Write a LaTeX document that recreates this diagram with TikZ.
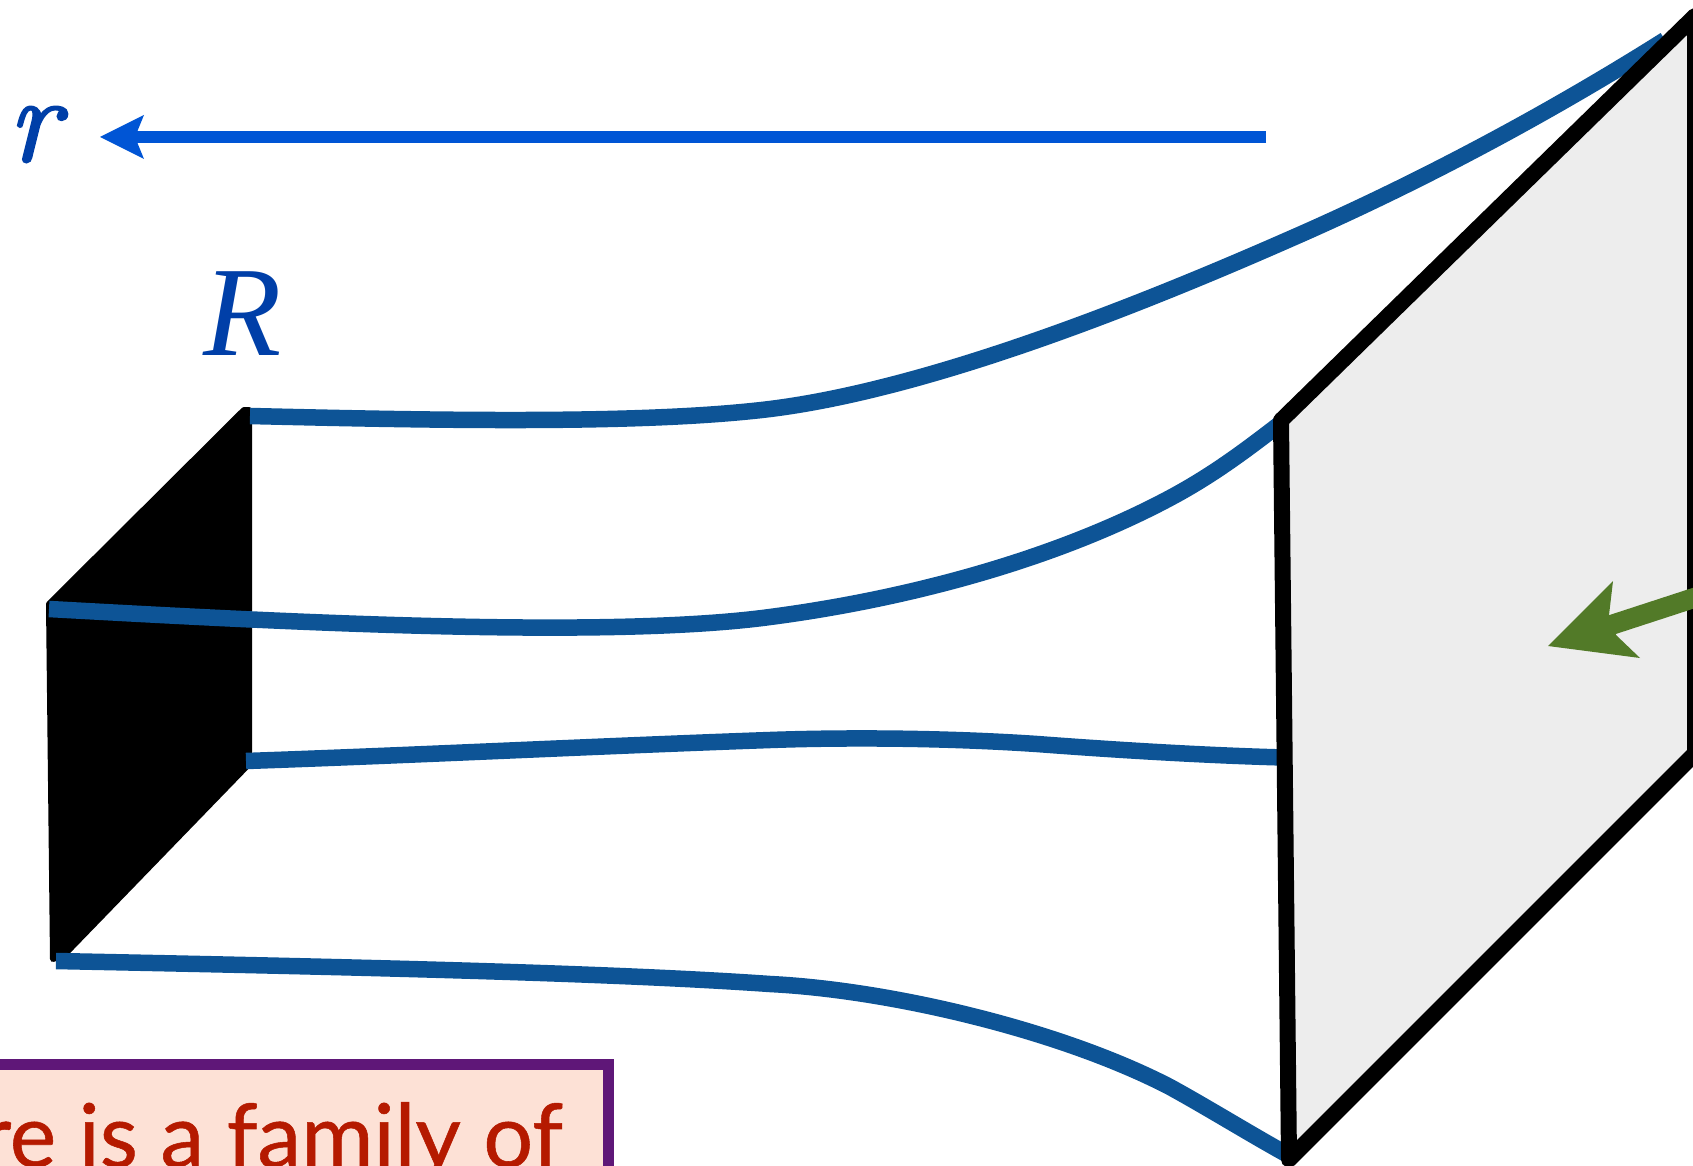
\documentclass[tikz,border=0pt]{standalone}
\usepackage{fontspec}
\setmainfont{Liberation Serif}
\newfontfamily\gillish[FakeBold=0.6]{Lato}
\newfontfamily\lmfont[FakeBold=2]{Latin Modern Roman}
\definecolor{curveblue}{HTML}{0D5496}
\definecolor{axisblue}{HTML}{0055D5}
\definecolor{labelblue}{HTML}{003FA8}
\definecolor{planegray}{HTML}{EDEDED}
\definecolor{arrowgreen}{HTML}{527A28}
\definecolor{boxfill}{HTML}{FDE1D6}
\definecolor{boxedge}{HTML}{5F1778}
\definecolor{boxtext}{HTML}{B51A00}
\tikzset{
  curve/.style={draw=curveblue,line width=16.5pt,line cap=butt},
  label/.style={inner sep=0pt,outer sep=0pt,text=labelblue,anchor=base west},
  shaft/.style={line width=11.5pt,line cap=butt},
}
\begin{document}
\begin{tikzpicture}[x=1pt,y=-1pt]
\useasboundingbox (0,0) rectangle (1693,1166);
\clip (0,0) rectangle (1693,1166);
% small black face
\filldraw[black,line width=6pt,line join=round] (244,410) -- (249,410) -- (249,764) -- (64,955) -- (53,959) -- (49,604) -- cycle;
% curves
\draw[curve] (250,416) .. controls (420,420) and (640,425) .. (770,409)
  .. controls (930,389) and (1140,305) .. (1290,239)
  .. controls (1400,191) and (1530,125) .. (1665,40);
\draw[curve] (49,609) .. controls (250,620) and (600,640) .. (770,617)
  .. controls (900,600) and (1050,562) .. (1170,498)
  .. controls (1215,474) and (1250,447) .. (1285,420);
\draw[curve] (246,761) .. controls (420,755) and (600,746) .. (770,740)
  .. controls (840,737.5) and (940,737.5) .. (1037,744)
  .. controls (1090,748) and (1190,755) .. (1284,757.5);
\draw[curve] (56,961) .. controls (300,966) and (600,972) .. (770,984)
  .. controls (890,990) and (1060,1030) .. (1170,1087)
  .. controls (1210,1109) and (1250,1134) .. (1290,1156);
% large plane
\coordinate (pa) at (1281,420.5);
\coordinate (pb) at (1695,16);
\coordinate (pc) at (1695,753.5);
\coordinate (pd) at (1289,1159.5);
\filldraw[fill=planegray,draw=black,line width=16pt,line join=round] (pa) -- (pb) -- (pc) -- (pd) -- cycle;
% r arrow
\coordinate (rtail) at (1266,137);
\coordinate (rneck) at (132,137);
\draw[shaft,axisblue] (rtail) -- (rneck);
\fill[axisblue] (100,137) -- (144,115) -- (135,137) -- (144,159) -- cycle;
\node[label,font=\lmfont\fontsize{123}{123}\selectfont\itshape] (rlab) at (8,161) {r};
\node[label,font=\fontsize{128}{128}\selectfont\itshape] (Rlab) at (203,355) {R};
% green arrow
\coordinate (gtail) at (1700,596);
\coordinate (gneck) at (1605,627);
\draw[line width=20pt,arrowgreen] (gtail) -- (gneck);
\fill[arrowgreen] (1548,646) -- (1613,581) -- (1609,615) -- (1616,635) -- (1640,658) -- cycle;
% box
\node[draw=boxedge,fill=boxfill,line width=11pt,minimum width=640pt,minimum height=140pt,anchor=north east,inner sep=0pt] (box) at (614,1059) {};
\node[inner sep=0pt,outer sep=0pt,anchor=base east,text=boxtext,font=\gillish\fontsize{88}{88}\selectfont] (boxtxt) at (563,1167) {re is a family of};
\end{tikzpicture}
\end{document}
